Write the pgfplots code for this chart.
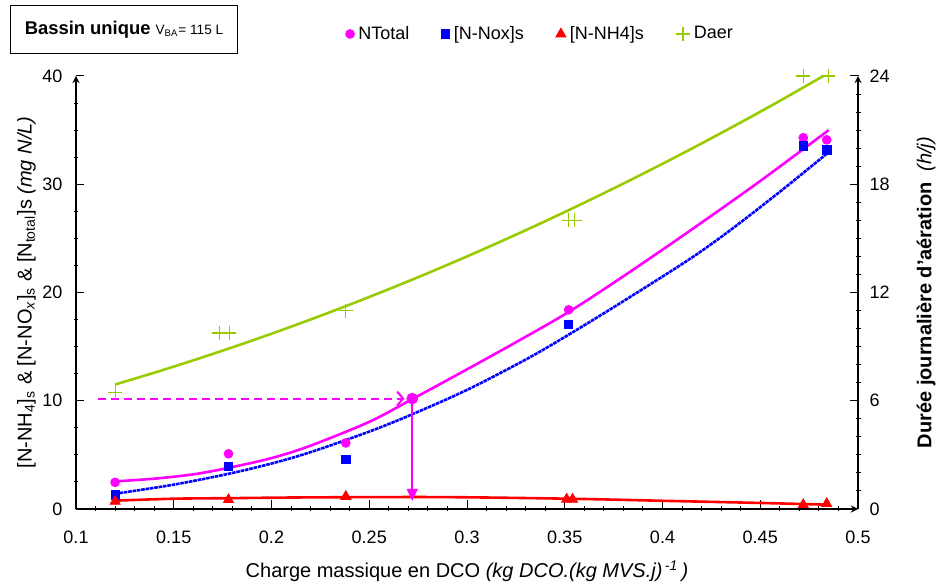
\documentclass[border=0pt]{standalone}
\usepackage{fontspec}
\setmainfont{Liberation Sans}
\usepackage{pgfplots}
\pgfplotsset{compat=1.18}
\usetikzlibrary{arrows.meta}
\definecolor{cmag}{RGB}{255,0,255}
\definecolor{cblue}{RGB}{0,0,255}
\definecolor{cred}{RGB}{255,0,0}
\definecolor{cgreen}{RGB}{153,204,0}
\begin{document}
\begin{tikzpicture}
\pgfplotsset{
  base/.style={
    width=391pt, height=216.5pt, scale only axis,
    xmin=0.1, xmax=0.5,
    tick label style={font=\fontsize{9}{10.8}\selectfont},
    /pgf/number format/assume math mode=true,
    axis line style={-, line width=0.6pt, black},
    tick style={line width=0.5pt, black},
    major tick length=4.5pt, minor tick length=2.5pt,
    tick align=outside,
    label style={font=\fontsize{9}{10.8}\selectfont},
  }
}
\begin{axis}[base, name=ax,
  axis x line=bottom, axis y line=left,
  ymin=0, ymax=40,
  xtick={0.1,0.15,0.2,0.25,0.3,0.35,0.4,0.45,0.5},
  xticklabels={0.1,0.15,0.2,0.25,0.3,0.35,0.4,0.45,0.5},
  xticklabel style={yshift=-5pt},
  yticklabel style={xshift=-1pt},
  minor x tick num=4,
  ytick={0,10,20,30,40}, minor y tick num=3,
  every major x tick/.append style={yshift=2pt},
  every major y tick/.append style={xshift=2pt},
  xlabel={Charge massique en DCO \textit{(kg DCO.(kg MVS.j)\textsuperscript{\,-1}\,)}},
  every axis x label/.style={at={(axis description cs:0.5,-0.143)}, anchor=center},
  ylabel={[N-NH\textsubscript{4}]\textsubscript{s} \& [N-NO\textsubscript{\textit{x}}]\textsubscript{s} \& [N\textsubscript{total}]s \textit{(mg N/L)}},
  every axis y label/.style={at={(axis description cs:-0.0635,0.5)}, rotate=90, anchor=center},
  legend style={draw=none, fill=none, at={(axis description cs:0.595,1.097)}, anchor=center,
    font=\fontsize{9}{10.8}\selectfont, /tikz/every even column/.append style={column sep=14pt}},
  legend columns=4, legend cell align=left,
  legend image code/.code={\draw[mark repeat=2,mark phase=2,#1] plot coordinates {(0cm,0cm) (0.17cm,0cm) (0.34cm,0cm)};},
]
% fitted curves
\addplot[cmag, line width=1.3pt, smooth, forget plot] coordinates {
 (0.12,2.55) (0.14,2.8) (0.16,3.2) (0.178,3.8) (0.2,4.7) (0.22,5.85) (0.25,8.05) (0.272,10.15) (0.3,12.9)
 (0.325,15.4) (0.352,18.2) (0.38,21.5) (0.414,25.7) (0.45,30.3) (0.485,35.0)};
\addplot[cblue, line width=1.3pt, dash pattern=on 1.8pt off 0.4pt, smooth, forget plot] coordinates {
 (0.12,1.41) (0.15,2.25) (0.178,3.25) (0.2,4.2) (0.22,5.25) (0.25,7.15) (0.272,8.75) (0.3,11.0)
 (0.33,13.8) (0.352,16.1) (0.38,19.2) (0.414,23.1) (0.435,25.8) (0.46,29.3) (0.4846,32.9)};
\addplot[cred, line width=1.3pt, smooth, forget plot] coordinates {
 (0.12,0.77) (0.15,0.95) (0.178,1.0) (0.218,1.07) (0.286,1.1) (0.352,0.95) (0.402,0.75) (0.452,0.55) (0.484,0.4)};
% annotation
\addplot[cmag, line width=1pt, dash pattern=on 4pt off 2.5pt, -{Straight Barb[length=3pt,width=7pt]}, forget plot] coordinates {(0.111,10.2) (0.268,10.2)};
\addplot[cmag, line width=0.8pt, -{Triangle[length=6pt,width=5.5pt]}, forget plot] coordinates {(0.272,10.2) (0.272,0.75)};
\addplot[only marks, mark=*, cmag, mark size=2.7pt, forget plot] coordinates {(0.272,10.2)};
% data
\addplot[only marks, mark=*, cmag, mark size=2.2pt] coordinates {
 (0.120,2.46) (0.178,5.1) (0.238,6.1) (0.352,18.4) (0.472,34.3) (0.484,34.1)};
\addlegendentry{NTotal}
\addplot[only marks, mark=square*, cblue, mark size=2.1pt] coordinates {
 (0.120,1.32) (0.178,3.93) (0.238,4.6) (0.352,17.08) (0.472,33.55) (0.484,33.18)};
\addlegendentry{[N-Nox]s}
\addplot[only marks, mark=triangle*, cred, mark size=2.9pt] coordinates {
 (0.120,0.7) (0.178,0.86) (0.238,1.15) (0.351,0.9) (0.354,0.9) (0.472,0.4) (0.484,0.5)};
\addlegendentry{[N-NH4]s}
\addlegendimage{only marks, mark=+, cgreen, mark size=3.5pt, mark options={line width=0.6pt}}
\addlegendentry{Daer}
\end{axis}
\begin{axis}[base,
  axis y line=right, axis x line=none,
  ymin=0, ymax=24,
  ytick={0,6,12,18,24}, minor y tick num=5,
  every major y tick/.append style={xshift=-2pt},
  ylabel={\textbf{Durée journalière d'aération}\ \ \textit{(h/j)}},
  every axis y label/.style={at={(axis description cs:1.087,0.5)}, rotate=90, anchor=center},
]
\addplot[cgreen, line width=1.3pt, smooth] coordinates {
 (0.12,6.9) (0.14,7.553) (0.16,8.24) (0.18,8.96) (0.20,9.715) (0.22,10.504) (0.24,11.327)
 (0.26,12.184) (0.28,13.074) (0.30,14.0) (0.32,14.958) (0.34,15.951) (0.36,16.978)
 (0.38,18.038) (0.40,19.133) (0.42,20.262) (0.44,21.425) (0.46,22.622) (0.4823,24.0)};
\addplot[only marks, mark=+, cgreen, mark size=3.5pt, mark options={line width=0.6pt}] coordinates {
 (0.120,6.46) (0.1733,9.75) (0.1784,9.75) (0.238,11.0) (0.352,16.0) (0.355,16.0) (0.472,24.0) (0.4848,24.0)};
\end{axis}
\node[draw, line width=0.5pt, minimum width=113pt, minimum height=24pt, inner sep=0pt]
  at ([xshift=24pt,yshift=23pt]ax.north west)
  {\fontsize{9.2}{11}\selectfont\textbf{Bassin unique} {\fontsize{6.8}{8}\selectfont V\textsubscript{BA}= 115 L}};
\pgfresetboundingbox
\path ([xshift=-38pt,yshift=-37pt]ax.south west) rectangle ([xshift=42pt,yshift=38pt]ax.north east);
\end{tikzpicture}
\end{document}
